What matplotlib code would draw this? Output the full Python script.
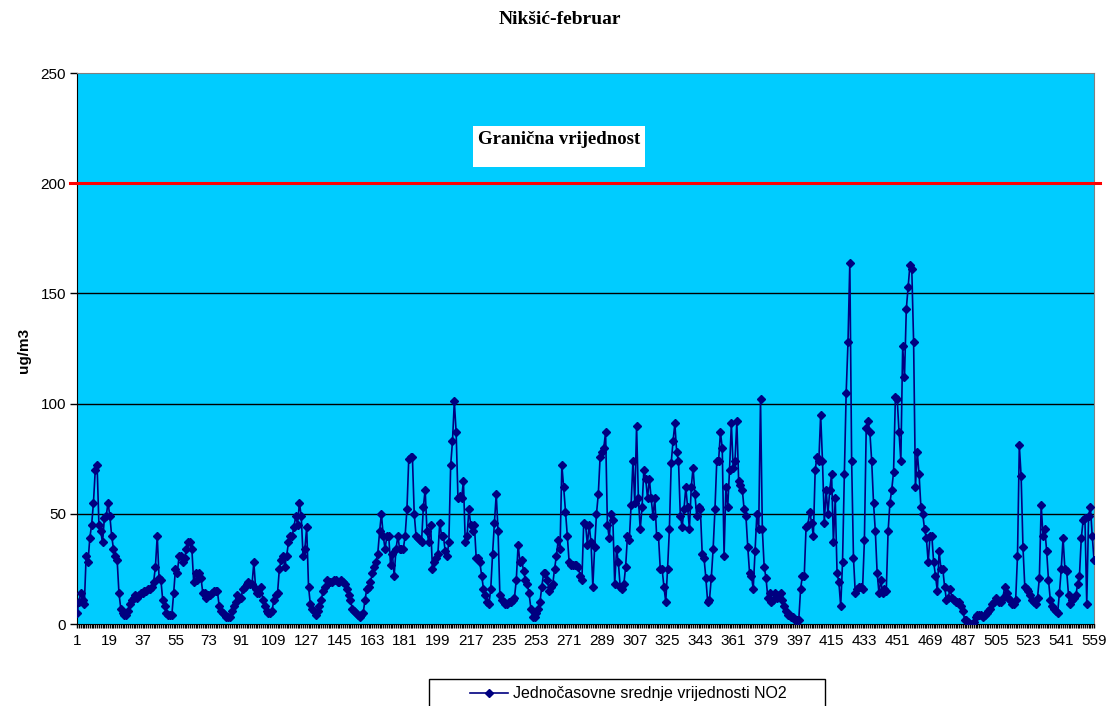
import numpy as np
import matplotlib
matplotlib.use('Agg')
from matplotlib import pyplot as plt
from matplotlib.patches import Rectangle

# satne vrijednosti NO2 (ug/m3), Niksic - februar
no2 = [
    5, 10, 14, 11, 9, 31, 28, 39, 45, 55,
    70, 72, 45, 42, 37, 48, 49, 55, 49, 40,
    34, 31, 29, 14, 7, 5, 4, 4, 6, 9,
    11, 12, 13, 12, 13, 14, 14, 15, 15, 16,
    16, 17, 19, 26, 40, 21, 20, 11, 8, 5,
    4, 4, 4, 14, 25, 23, 31, 31, 28, 30,
    34, 37, 37, 34, 19, 23, 20, 23, 21, 14,
    14, 12, 13, 13, 14, 15, 15, 15, 8, 6,
    5, 4, 3, 3, 3, 6, 8, 10, 13, 12,
    12, 16, 17, 18, 19, 18, 18, 28, 16, 14,
    14, 17, 11, 8, 6, 5, 5, 6, 11, 13,
    14, 25, 29, 31, 26, 31, 37, 40, 40, 44,
    49, 45, 55, 49, 31, 34, 44, 17, 9, 7,
    6, 4, 6, 8, 11, 15, 17, 20, 19, 19,
    19, 20, 20, 19, 19, 20, 19, 18, 16, 13,
    11, 7, 6, 5, 4, 3, 4, 5, 11, 16,
    17, 19, 23, 26, 28, 32, 42, 50, 40, 34,
    40, 40, 27, 32, 22, 34, 40, 34, 34, 34,
    40, 52, 75, 76, 76, 50, 40, 39, 38, 37,
    53, 61, 42, 37, 45, 25, 28, 30, 32, 46,
    40, 40, 33, 31, 37, 72, 83, 101, 87, 57,
    58, 57, 65, 37, 40, 52, 45, 42, 45, 30,
    30, 28, 22, 16, 13, 10, 9, 16, 32, 46,
    59, 42, 13, 11, 10, 9, 9, 10, 10, 11,
    12, 20, 36, 28, 29, 24, 20, 18, 14, 7,
    3, 3, 5, 7, 10, 17, 23, 23, 20, 15,
    17, 18, 25, 31, 38, 34, 72, 62, 51, 40,
    28, 27, 27, 27, 27, 26, 22, 20, 46, 45,
    36, 45, 37, 17, 35, 50, 59, 76, 78, 80,
    87, 45, 39, 50, 47, 18, 34, 28, 17, 16,
    18, 26, 40, 38, 54, 74, 55, 90, 57, 43,
    53, 70, 66, 57, 66, 57, 49, 57, 40, 40,
    25, 25, 17, 10, 25, 43, 73, 83, 91, 78,
    74, 49, 44, 52, 62, 53, 43, 62, 71, 59,
    49, 53, 52, 32, 30, 21, 10, 11, 21, 34,
    52, 74, 74, 87, 80, 31, 62, 53, 70, 91,
    71, 74, 92, 65, 63, 61, 52, 49, 35, 23,
    22, 16, 33, 50, 43, 102, 43, 26, 21, 12,
    14, 10, 11, 14, 12, 13, 14, 11, 8, 6,
    4, 4, 3, 3, 2, 2, 2, 16, 22, 22,
    44, 45, 51, 46, 40, 70, 76, 74, 95, 74,
    46, 61, 50, 61, 68, 37, 57, 23, 19, 8,
    28, 68, 105, 128, 164, 74, 30, 14, 16, 17,
    17, 16, 38, 89, 92, 87, 74, 55, 42, 23,
    14, 20, 14, 16, 15, 42, 55, 61, 69, 103,
    102, 87, 74, 126, 112, 143, 153, 163, 161, 128,
    62, 78, 68, 53, 50, 43, 39, 28, 40, 40,
    28, 22, 15, 33, 25, 25, 17, 11, 12, 16,
    12, 11, 10, 10, 10, 8, 6, 2, 2, 1,
    0, 0, 1, 3, 4, 4, 4, 3, 4, 5,
    6, 7, 9, 10, 12, 11, 10, 10, 12, 17,
    14, 12, 11, 9, 9, 11, 31, 81, 67, 35,
    17, 16, 15, 13, 11, 10, 9, 12, 21, 54,
    40, 43, 33, 20, 11, 8, 7, 6, 5, 14,
    25, 39, 25, 24, 13, 9, 11, 12, 13, 18,
    22, 39, 47, 48, 9, 49, 53, 40, 29,
]
granicna_vrijednost = 200
y_ticks = [0, 50, 100, 150, 200, 250]

sati = np.arange(1, len(no2) + 1)
x_labele = sati[::18]

plt.rcParams['font.family'] = ['Liberation Sans', 'DejaVu Sans']

fig = plt.figure(figsize=(11.07, 7.06), dpi=100)
ax = fig.add_axes([0.0696, 0.1161, 0.9187, 0.7805])
ax.set_facecolor('#00CCFF')

# horizontalne linije mreze
for y in y_ticks[1:-1]:
    ax.axhline(y, color='black', lw=1, zorder=1)

ax.plot(sati, no2, color='#000080', lw=1.2, marker='D', markersize=4,
        markerfacecolor='#000080', markeredgecolor='#000080', zorder=3,
        label='Jednočasovne srednje vrijednosti NO2')

# granicna vrijednost
ax.axhline(granicna_vrijednost, xmin=-0.007, xmax=1.006, color='#FF0000',
           lw=2.2, clip_on=False, zorder=4)

ax.add_patch(Rectangle((0.389, 0.8294), 0.1695, 0.0744, transform=ax.transAxes,
                       facecolor='white', edgecolor='none', zorder=5))
ax.text(0.4745, 0.879, 'Granična vrijednost', transform=ax.transAxes,
        ha='center', va='center', fontsize=13.5, fontweight='bold',
        family='Liberation Serif', zorder=6)

ax.set_xlim(1, len(no2))
ax.set_ylim(0, 250)
ax.set_yticks(y_ticks)
ax.set_xticks(x_labele)
ax.set_xticks(sati, minor=True)
ax.tick_params(axis='x', which='both', direction='out', length=3, width=1,
               labelsize=11, pad=4)
ax.tick_params(axis='y', direction='out', length=5, width=1, labelsize=11, pad=3)

ax.spines['top'].set_color('#808080')
ax.spines['right'].set_color('#808080')

fig.text(0.506, 0.9717, 'Nikšić-februar', ha='center', va='center',
         fontsize=14, fontweight='bold', family='Liberation Serif')
fig.text(0.022, 0.504, 'ug/m3', rotation=90, ha='center', va='center',
         fontsize=11, fontweight='bold')

# legenda dole
fig.patches.append(Rectangle((429 / 1107, -0.02), 396 / 1107, 0.058,
                             transform=fig.transFigure, facecolor='white',
                             edgecolor='black', lw=1))
fig.legend(loc='center', bbox_to_anchor=(0.5675, 0.0175), frameon=False,
           fontsize=11.5, handlelength=2.4, handletextpad=0.3)

plt.savefig('out.png', dpi=100)
